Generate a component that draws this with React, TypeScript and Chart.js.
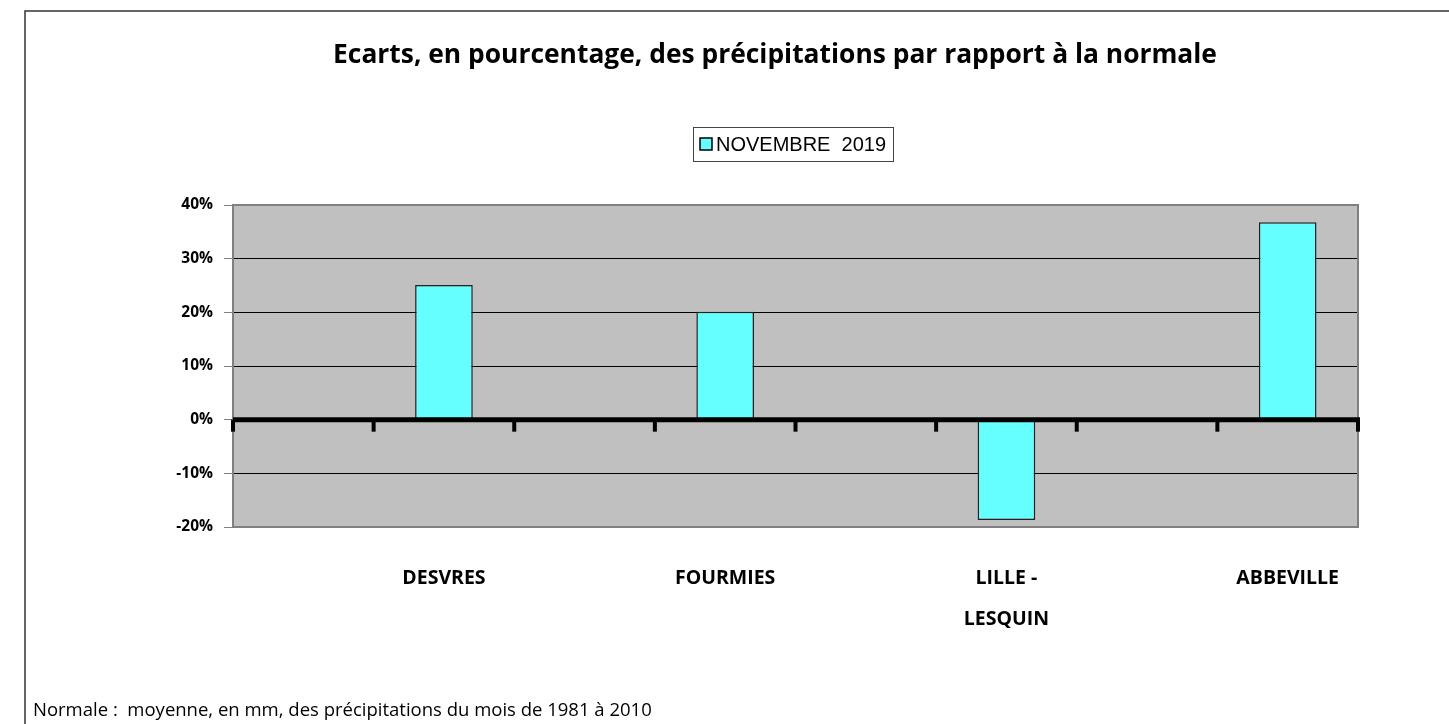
import React, { useEffect, useRef } from 'react';
import { Chart, registerables } from 'chart.js';

Chart.register(...registerables);

const TITLE = 'Ecarts, en pourcentage, des précipitations par rapport à la normale';
const FOOTNOTE = 'Normale :  moyenne, en mm, des précipitations du mois de 1981 à 2010';
const SERIES_LABEL = 'NOVEMBRE  2019';
const CATEGORIES: (string | string[])[] = ['', 'DESVRES', '', 'FOURMIES', '', ['LILLE -', 'LESQUIN'], '', 'ABBEVILLE'];
const VALUES: (number | null)[] = [null, 25.1, null, 20.1, null, -18.7, null, 36.8];
const Y_MIN = -20;
const Y_MAX = 40;
const Y_STEP = 10;

const BAR_COLOR = '#66FFFF';
const PLOT_BG = '#C0C0C0';
const FONT = "'Open Sans', 'Noto Sans', sans-serif";

const decorPlugin = {
  id: 'decor',
  beforeDraw(chart: any) {
    const { ctx, chartArea, width, height } = chart;
    ctx.save();
    ctx.fillStyle = '#fff';
    ctx.fillRect(0, 0, width, height);
    // outer frame
    ctx.strokeStyle = '#333';
    ctx.lineWidth = 1.5;
    ctx.beginPath();
    ctx.moveTo(25, height);
    ctx.lineTo(25, 11);
    ctx.lineTo(width, 11);
    ctx.stroke();
    // plot background
    ctx.fillStyle = PLOT_BG;
    ctx.fillRect(chartArea.left, chartArea.top, chartArea.right - chartArea.left, chartArea.bottom - chartArea.top);
    // title
    ctx.fillStyle = '#000';
    ctx.font = `bold 26.4px ${FONT}`;
    ctx.textAlign = 'center';
    ctx.textBaseline = 'middle';
    ctx.fillText(TITLE, 775, 55);
    // footnote
    ctx.font = `18.5px ${FONT}`;
    ctx.textAlign = 'left';
    ctx.fillText(FOOTNOTE, 33, 711);
    // legend
    const ds = chart.data.datasets[0];
    ctx.fillStyle = '#fff';
    ctx.fillRect(693, 127, 200, 34);
    ctx.strokeStyle = '#444';
    ctx.lineWidth = 1;
    ctx.strokeRect(693.5, 127.5, 200, 34);
    ctx.fillStyle = ds.backgroundColor;
    ctx.fillRect(700, 138, 12, 12);
    ctx.strokeStyle = '#000';
    ctx.lineWidth = 1.5;
    ctx.strokeRect(700, 138, 12, 12);
    ctx.fillStyle = '#000';
    ctx.font = `20px 'Liberation Sans', Arial, sans-serif`;
    ctx.textAlign = 'left';
    ctx.textBaseline = 'middle';
    ctx.fillText(ds.label, 716, 145);
    ctx.restore();
  },
  afterDatasetsDraw(chart: any) {
    const { ctx, chartArea, scales } = chart;
    const x = scales.x;
    const y = scales.y;
    const y0 = y.getPixelForValue(0);
    const step = x.getPixelForValue(1) - x.getPixelForValue(0);
    ctx.save();
    // plot border (top, right, bottom)
    ctx.strokeStyle = '#808080';
    ctx.lineWidth = 2;
    ctx.beginPath();
    ctx.moveTo(chartArea.left, chartArea.top);
    ctx.lineTo(chartArea.right, chartArea.top);
    ctx.lineTo(chartArea.right, chartArea.bottom);
    ctx.lineTo(chartArea.left, chartArea.bottom);
    ctx.stroke();
    // zero axis line
    ctx.strokeStyle = '#000';
    ctx.lineWidth = 5;
    ctx.beginPath();
    ctx.moveTo(chartArea.left, y0);
    ctx.lineTo(chartArea.right + 2, y0);
    ctx.stroke();
    // category boundary ticks
    ctx.lineWidth = 4;
    for (let i = 0; i <= CATEGORIES.length; i++) {
      const px = x.getPixelForValue(0) - step / 2 + i * step;
      ctx.beginPath();
      ctx.moveTo(px, y0);
      ctx.lineTo(px, y0 + 12);
      ctx.stroke();
    }
    ctx.restore();
  },
};

export default function App() {
  const ref = useRef<HTMLCanvasElement>(null);
  useEffect(() => {
    if (!ref.current) return;
    const chart = new Chart(ref.current, {
      type: 'bar',
      data: {
        labels: CATEGORIES,
        datasets: [
          {
            label: SERIES_LABEL,
            data: VALUES,
            backgroundColor: BAR_COLOR,
            borderColor: '#222',
            borderWidth: 1.5,
            borderSkipped: false,
            barPercentage: 0.41,
            categoryPercentage: 1,
          },
        ],
      },
      options: {
        responsive: false,
        animation: false,
        layout: { padding: { top: 205, right: 91, bottom: 77, left: 0 } },
        plugins: {
          legend: { display: false },
          title: { display: false },
          tooltip: { enabled: false },
        },
        scales: {
          x: {
            grid: { display: false, drawTicks: false },
            border: { display: false },
            ticks: {
              color: '#000',
              font: { family: FONT, weight: 'bold', size: 19.5, lineHeight: 2.15 },
              padding: 30,
              maxRotation: 0,
              autoSkip: false,
            },
            afterFit: (s: any) => {
              s.height = 120;
            },
          },
          y: {
            min: Y_MIN,
            max: Y_MAX,
            ticks: {
              stepSize: Y_STEP,
              color: '#000',
              font: { family: FONT, weight: 'bold', size: 15.5 },
              padding: 11,
              callback: (v: any) => `${v}%`,
            },
            grid: { color: '#000', lineWidth: 1, tickColor: '#808080', tickLength: 9, drawTicks: true },
            border: { color: '#808080', width: 2 },
            afterFit: (s: any) => {
              s.width = 233;
            },
          },
        },
      },
      plugins: [decorPlugin],
    });
    return () => chart.destroy();
  }, []);
  return (
    <div style={{ position: 'fixed', left: 0, top: 0, width: 1449, height: 724, background: '#fff' }}>
      <canvas ref={ref} width={1449} height={724} />
    </div>
  );
}
